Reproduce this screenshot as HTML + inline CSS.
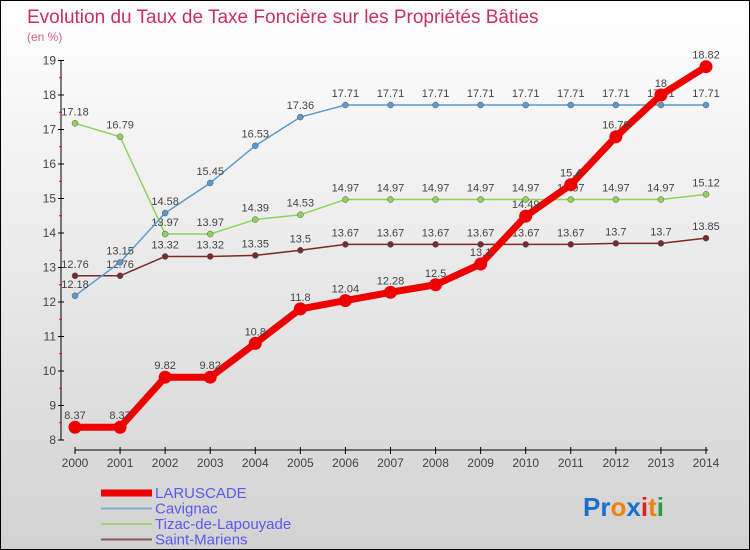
<!DOCTYPE html>
<html><head><meta charset="utf-8"><style>
body{margin:0}
#c{position:relative;width:748px;height:548px;border:1px solid #000;background:linear-gradient(#fff,#d2d2d2);font-family:"Liberation Sans",sans-serif;overflow:hidden}
</style></head><body>
<div id="c">
<svg id="s" width="748" height="548"></svg>
</div>
<script>
const years=[2000,2001,2002,2003,2004,2005,2006,2007,2008,2009,2010,2011,2012,2013,2014];
const laruscade=[8.37,8.37,9.82,9.82,10.8,11.8,12.04,12.28,12.5,13.1,14.49,15.4,16.79,18,18.82];
const cavignac=[12.18,13.15,14.58,15.45,16.53,17.36,17.71,17.71,17.71,17.71,17.71,17.71,17.71,17.71,17.71];
const tizac=[17.18,16.79,13.97,13.97,14.39,14.53,14.97,14.97,14.97,14.97,14.97,14.97,14.97,14.97,15.12];
const stmariens=[12.76,12.76,13.32,13.32,13.35,13.5,13.67,13.67,13.67,13.67,13.67,13.67,13.7,13.7,13.85];
const yTicks=[8,9,10,11,12,13,14,15,16,17,18,19];
const NS="http://www.w3.org/2000/svg";
const s=document.getElementById('s');
const X=i=>74+i*45.07, Y=v=>439-(v-8)*34.5;
function el(t,a,p){const e=document.createElementNS(NS,t);for(const k in a)e.setAttribute(k,a[k]);(p||s).appendChild(e);return e;}
let t=el('text',{x:26,y:22,fill:'#c8315e','font-size':19});t.textContent='Evolution du Taux de Taxe Foncière sur les Propriétés Bâties';

t=el('text',{x:26,y:40,fill:'#d06080','font-size':12});t.textContent='(en %)';

let a=el('line',{x1:60,y1:59,x2:60,y2:439,stroke:'#000'});
a=el('line',{x1:74,y1:449,x2:707,y2:449,stroke:'#000'});
yTicks.forEach(v=>{el('line',{x1:57,y1:Y(v),x2:63,y2:Y(v),stroke:'#000'});
 if(v<19)el('line',{x1:58,y1:Y(v+0.5),x2:61,y2:Y(v+0.5),stroke:'#f00'});
 const l=el('text',{x:55,y:Y(v)+4,'text-anchor':'end','font-size':12,fill:'#444'});l.textContent=v;
 });
years.forEach((y,i)=>{el('line',{x1:X(i),y1:446,x2:X(i),y2:453,stroke:'#000'});
 const l=el('text',{x:X(i),y:466,'text-anchor':'middle','font-size':12,fill:'#444'});l.textContent=y;
 });
function series(d,col,w,r,name){
 const g=el('g',{});
 el('polyline',{points:d.map((v,i)=>X(i)+','+Y(v)).join(' '),fill:'none',stroke:col,'stroke-width':w,'stroke-linejoin':'round'},g);
 d.forEach((v,i)=>{const c=el('circle',{cx:X(i),cy:Y(v),r:r,fill:col,stroke:w>3?col:'#555','stroke-width':w>3?0:0.5},g);
  
  const l=el('text',{x:X(i),y:Y(v)-8,'text-anchor':'middle','font-size':11,fill:'#444'},g);l.textContent=v;});
}
series(stmariens,'#7a2a2a',1.5,3,'saint-mariens');
series(tizac,'#8fd45a',1.5,3,'tizac');
series(cavignac,'#5a9ad0',1.5,3,'cavignac');
series(laruscade,'#ee0000',7,6.5,'laruscade');
const leg=[['LARUSCADE','#ee0000',7],['Cavignac','#7fafcf',2],['Tizac-de-Lapouyade','#9fd47a',2],['Saint-Mariens','#8a5a5a',2]];
leg.forEach((L,i)=>{const g=el('g',{});
 const y=492+i*15.5;el('line',{x1:100,y1:y,x2:151,y2:y,stroke:L[1],'stroke-width':L[2]},g);
 const tt=el('text',{x:154,y:y+5,'font-size':15,fill:'#5a5af0'},g);tt.textContent=L[0];});
const logo=el('text',{x:582,y:515,'font-size':26,'font-weight':'bold'});

[['Pr','#1a6fd0'],['o','#f08010'],['x','#1a6fd0'],['i','#e02020'],['t','#f08010'],['i','#20a040']].forEach(p=>{const ts=el('tspan',{fill:p[1]},logo);ts.textContent=p[0];});
</script>
</body></html>
